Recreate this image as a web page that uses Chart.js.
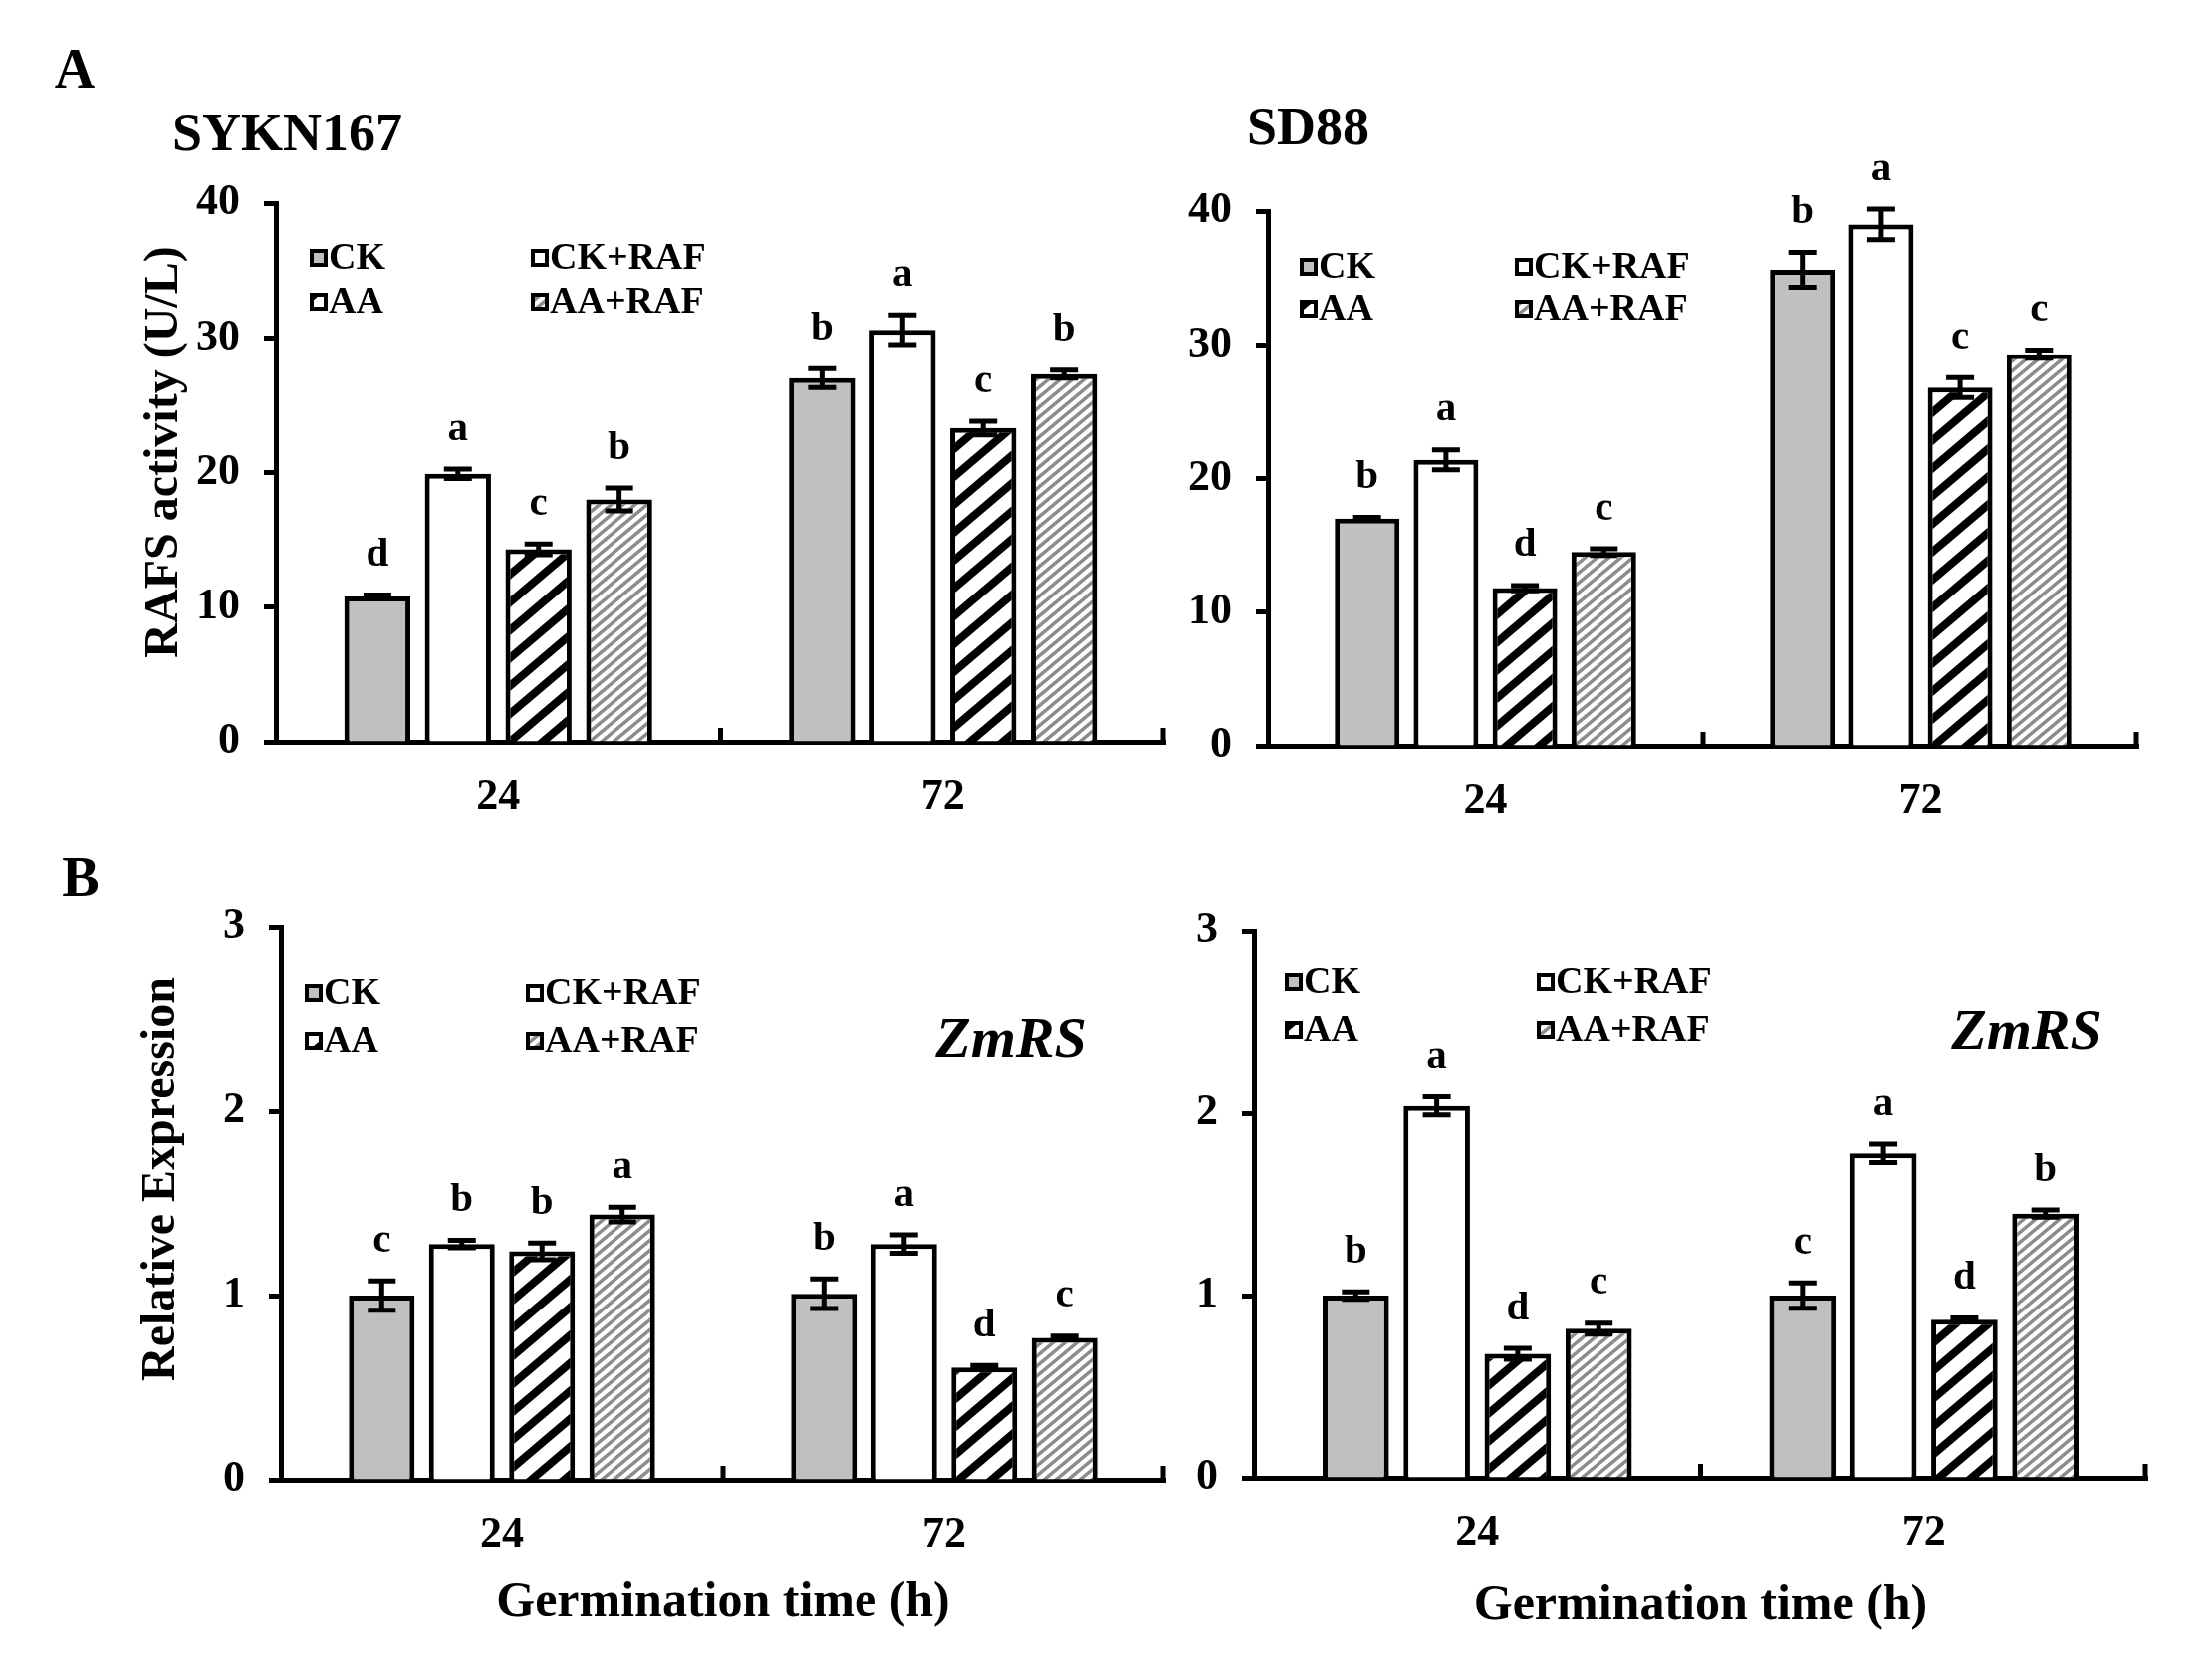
<!DOCTYPE html>
<html>
<head>
<meta charset="utf-8">
<script src="https://cdn.jsdelivr.net/npm/chart.js@4.4.1/dist/chart.umd.min.js"></script>
<style>
  html, body { margin: 0; padding: 0; background: #fff; }
  body { width: 2221px; height: 1673px; position: relative; overflow: hidden;
         font-family: 'Liberation Serif', 'Times New Roman', serif; font-weight: bold; color: #000; }
  canvas { position: absolute; }
  .lbl { position: absolute; line-height: 1; white-space: nowrap; }
  .c { transform: translate(-50%, -50%); }
  .l { transform: translateY(-50%); }
</style>
</head>
<body>
<div class="lbl c" style="left:75px; top:69px; font-size:56px;">A</div>
<div class="lbl c" style="left:81px; top:881px; font-size:56px;">B</div>
<div class="lbl l" style="left:173px; top:133px; font-size:54px;">SYKN167</div>
<div class="lbl l" style="left:1252px; top:127px; font-size:54px;">SD88</div>
<div class="lbl c" style="left:1015px; top:1042px; font-size:58px; font-style:italic;">ZmRS</div>
<div class="lbl c" style="left:2035px; top:1034px; font-size:58px; font-style:italic;">ZmRS</div>

<script>
// categories and series
const categories = ['24', '72'];
const seriesNames = ['CK', 'CK+RAF', 'AA', 'AA+RAF'];
const rafsTicks = [0, 10, 20, 30, 40];
const exprTicks = [0, 1, 2, 3];

// one row per series: [24 h, 72 h]
// SYKN167 - RAFS activity (U/L)
const sykRafs    = [[10.8, 27.0], [19.9, 30.6], [14.3, 23.3], [18.0, 27.3]];
const sykRafsErr = [[0.1, 0.7], [0.35, 1.1], [0.4, 0.5], [0.85, 0.3]];
const sykRafsSig = [['d', 'b'], ['a', 'a'], ['c', 'c'], ['b', 'b']];

// SD88 - RAFS activity (U/L)
const sdRafs    = [[17.0, 35.6], [21.4, 39.0], [11.8, 26.8], [14.5, 29.3]];
const sdRafsErr = [[0.1, 1.3], [0.75, 1.15], [0.2, 0.75], [0.25, 0.3]];
const sdRafsSig = [['b', 'b'], ['a', 'a'], ['d', 'c'], ['c', 'c']];

// SYKN167 - ZmRS relative expression
const sykExpr    = [[1.0, 1.01], [1.28, 1.28], [1.24, 0.61], [1.44, 0.77]];
const sykExprErr = [[0.08, 0.08], [0.02, 0.05], [0.045, 0.01], [0.04, 0.01]];
const sykExprSig = [['c', 'b'], ['b', 'a'], ['b', 'd'], ['a', 'c']];

// SD88 - ZmRS relative expression
const sdExpr    = [[1.0, 1.0], [2.04, 1.78], [0.68, 0.867], [0.818, 1.45]];
const sdExprErr = [[0.02, 0.07], [0.05, 0.05], [0.03, 0.01], [0.03, 0.02]];
const sdExprSig = [['b', 'c'], ['a', 'a'], ['d', 'd'], ['c', 'b']];

const FONT = "'Liberation Serif', 'Times New Roman', serif";
Chart.defaults.font.family = FONT;
Chart.defaults.font.weight = 'bold';
Chart.defaults.color = '#000';

// diagonal stripes "/" as a canvas pattern
function stripes(w, h, lineW, color) {
    const c = document.createElement('canvas');
    c.width = w; c.height = h;
    const g = c.getContext('2d');
    g.fillStyle = '#fff';
    g.fillRect(0, 0, w, h);
    g.strokeStyle = color;
    g.lineWidth = lineW;
    for (let k = 0; k <= 2; k++) {
        g.beginPath();
        g.moveTo(k * w - 2 * w, 2 * h);
        g.lineTo(k * w + 2 * w, -2 * h);
        g.stroke();
    }
    return g.createPattern(c, 'repeat');
}

const fills = ['#c0c0c0', '#ffffff', stripes(33, 28, 8, '#000'), stripes(12, 10, 3.5, '#8c8c8c')];

// error bars, significance letters, ticks between groups, legend inside the plot
const panelDecor = {
    id: 'panelDecor',
    afterDatasetsDraw(chart, args, opts) {
        const ctx = chart.ctx;
        const x = chart.scales.x, y = chart.scales.y;
        const area = chart.chartArea;
        ctx.save();
        ctx.strokeStyle = '#000';
        ctx.fillStyle = '#000';
        ctx.lineWidth = 5;
        ctx.font = 'bold 41px ' + FONT;
        ctx.textAlign = 'center';
        ctx.textBaseline = 'middle';
        chart.data.datasets.forEach((ds, i) => {
            chart.getDatasetMeta(i).data.forEach((bar, j) => {
                const v = ds.data[j], e = opts.errors[i][j];
                const yt = y.getPixelForValue(v + e), yb = y.getPixelForValue(v - e);
                ctx.beginPath();
                ctx.moveTo(bar.x, yt); ctx.lineTo(bar.x, yb);
                ctx.moveTo(bar.x - 14, yt); ctx.lineTo(bar.x + 14, yt);
                ctx.moveTo(bar.x - 14, yb); ctx.lineTo(bar.x + 14, yb);
                ctx.stroke();
                ctx.fillText(opts.letters[i][j], bar.x, yt - 40);
            });
        });

        // small inward ticks at the category boundaries
        ctx.beginPath();
        for (let k = 1; k <= categories.length; k++) {
            const px = Math.min(x.getPixelForValue(k - 0.5), area.right - 2);
            ctx.moveTo(px, area.bottom);
            ctx.lineTo(px, area.bottom - 14);
        }
        ctx.stroke();

        // legend, two columns
        const lg = opts.legend;
        ctx.font = 'bold 38px ' + FONT;
        ctx.textAlign = 'left';
        ctx.lineWidth = 4;
        chart.data.datasets.forEach((ds, i) => {
            const bx = area.left + lg.x + (i % 2) * lg.col;
            const by = area.top + lg.y + Math.floor(i / 2) * lg.row;
            ctx.fillStyle = ds.backgroundColor;
            ctx.fillRect(bx, by - 9, 18, 18);
            ctx.strokeRect(bx + 2, by - 7, 14, 14);
            ctx.fillStyle = '#000';
            ctx.fillText(ds.label, bx + 19, by + 1);
        });

        // rotated y-axis title
        if (opts.yTitle) {
            ctx.font = 'bold 48px ' + FONT;
            ctx.textAlign = 'center';
            ctx.translate(opts.yTitle.x, opts.yTitle.y);
            ctx.rotate(-Math.PI / 2);
            ctx.fillText(opts.yTitle.text, 0, 0);
        }
        ctx.restore();
    }
};

function makePanel(p) {
    const left = p.L - 200, top = p.T - 70;
    const xh = p.xTitle ? 170 : 110;
    const w = p.R + 30 - left, h = p.B + xh - top;
    const cv = document.createElement('canvas');
    cv.width = w; cv.height = h;
    cv.style.left = left + 'px'; cv.style.top = top + 'px';
    cv.style.width = w + 'px'; cv.style.height = h + 'px';
    document.body.appendChild(cv);

    new Chart(cv, {
        type: 'bar',
        data: {
            labels: categories,
            datasets: seriesNames.map((name, i) => ({
                label: name,
                data: p.values[i],
                backgroundColor: fills[i],
                borderColor: '#000',
                borderWidth: 5,
                barPercentage: 0.82,
                categoryPercentage: 0.725
            }))
        },
        options: {
            responsive: false,
            animation: false,
            devicePixelRatio: 1,
            layout: { padding: { top: 70, right: 30, left: 0, bottom: 0 } },
            plugins: {
                legend: { display: false },
                tooltip: { enabled: false },
                panelDecor: {
                    errors: p.errors, letters: p.letters, legend: p.legend,
                    yTitle: p.yTitle ? { text: p.yTitle, x: p.yTitleX - left, y: p.yTitleY - top } : null
                }
            },
            scales: {
                x: {
                    afterFit: s => { s.height = xh; },
                    grid: { drawOnChartArea: false, drawTicks: false },
                    border: { color: '#000', width: 5 },
                    ticks: { font: { size: 44 }, padding: 29 },
                    title: {
                        display: !!p.xTitle,
                        text: p.xTitle || '',
                        font: { size: 50 },
                        padding: { top: 0, bottom: p.xTitle ? (p.B + xh) - 30 - p.xTitleY : 0 }
                    }
                },
                y: {
                    min: p.ticks[0],
                    max: p.ticks[p.ticks.length - 1],
                    afterFit: s => { s.width = 200; },
                    grid: { drawOnChartArea: false, drawTicks: true, tickLength: 12, tickWidth: 5, tickColor: '#000' },
                    border: { color: '#000', width: 5 },
                    ticks: { stepSize: p.ticks[1] - p.ticks[0], font: { size: 44 }, padding: 24 }
                }
            }
        },
        plugins: [panelDecor]
    });
}

makePanel({ L: 277, T: 204, R: 1170, B: 745, ticks: rafsTicks,
    values: sykRafs, errors: sykRafsErr, letters: sykRafsSig,
    yTitle: 'RAFS activity (U/L)', yTitleX: 166, yTitleY: 454,
    legend: { x: 34, y: 55, col: 222, row: 44 } });

makePanel({ L: 1273, T: 212, R: 2147, B: 749, ticks: rafsTicks,
    values: sdRafs, errors: sdRafsErr, letters: sdRafsSig,
    legend: { x: 32, y: 56, col: 216, row: 42 } });

makePanel({ L: 282, T: 931, R: 1170, B: 1486, ticks: exprTicks,
    values: sykExpr, errors: sykExprErr, letters: sykExprSig,
    yTitle: 'Relative Expression', yTitleX: 163, yTitleY: 1184,
    xTitle: 'Germination time (h)', xTitleY: 1610,
    legend: { x: 24, y: 66, col: 222, row: 48 } });

makePanel({ L: 1259, T: 935, R: 2156, B: 1484, ticks: exprTicks,
    values: sdExpr, errors: sdExprErr, letters: sdExprSig,
    xTitle: 'Germination time (h)', xTitleY: 1613,
    legend: { x: 31, y: 51, col: 253, row: 48 } });
</script>
</body>
</html>
